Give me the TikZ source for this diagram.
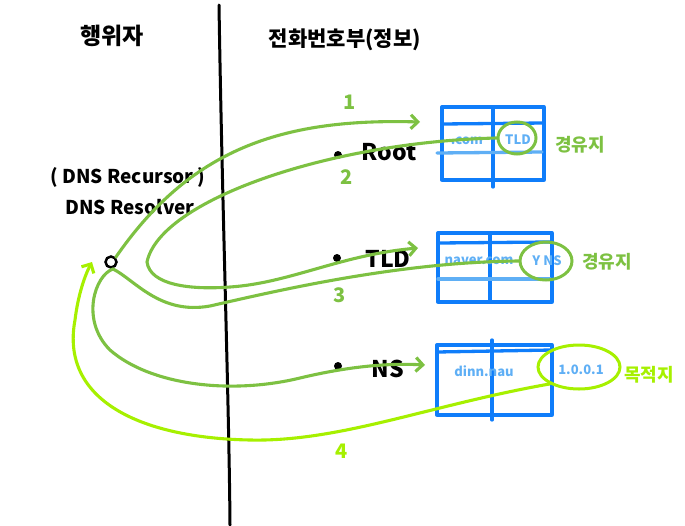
\documentclass[tikz,border=0pt]{standalone}
\usepackage{fontspec}
\setmainfont{Noto Sans CJK KR}
\usetikzlibrary{arrows.meta,shapes.geometric}
\definecolor{cgreen}{RGB}{125,193,66}
\definecolor{clime}{RGB}{166,240,0}
\definecolor{cblue}{RGB}{15,125,250}
\definecolor{clight}{RGB}{95,175,245}
\begin{document}
\begin{tikzpicture}[x=1pt,y=-1pt,
  tbl/.style={cblue,line width=3.3pt,line cap=round,line join=round},
  lightline/.style={clight,line width=3.3pt,line cap=round},
  flow/.style={cgreen,line width=3.1pt,line cap=round},
  flowb/.style={clime,line width=3.1pt,line cap=round},
  tip/.style={-{Straight Barb[length=7pt,width=14pt]}},
  celltext/.style={clight,font=\fontsize{13}{15}\selectfont\bfseries,inner sep=1pt},
  ring/.style={draw,ellipse,line width=3pt,inner sep=0pt},
  blk/.style={black,font=\fontsize{23}{27}\selectfont\bfseries,inner sep=1pt},
  num/.style={cgreen,font=\fontsize{20}{22}\selectfont\bfseries,inner sep=1pt},
  glabel/.style={cgreen,font=\fontsize{18}{20}\selectfont\bfseries,inner sep=1pt},
  dotnode/.style={fill=black,circle,minimum size=8pt,inner sep=0pt}]
\useasboundingbox (0,0) rectangle (685,525);
% headers
\node[blk] (h1) at (112,36) {행위자};
\node[blk,font=\fontsize{21}{24}\selectfont\bfseries] (h2) at (345,40) {전화번호부(정보)};
% divider
\draw[black,line width=3pt,line cap=round] (219,5) .. controls (222,200) and (229,400) .. (230,525);
% resolver
\node[blk,font=\fontsize{19}{22}\selectfont\bfseries] (rc) at (128,177) {( DNS Recursor )};
\node[blk,font=\fontsize{19}{22}\selectfont\bfseries] (rr) at (130,207) {DNS Resolver};
\node[draw=black,circle,minimum size=11pt,inner sep=0pt,line width=2.5pt,fill=white] (res) at (111,262) {};
% servers
\node[dotnode] (d1) at (338,155) {};
\node[dotnode] (d2) at (337,258) {};
\node[dotnode] (d3) at (338,366) {};
\node[blk] (root) at (389,152) {Root};
\node[blk] (tld) at (388,259) {TLD};
\node[blk] (ns) at (388,369) {NS};
% table 1
\draw[tbl] (442,107) rectangle (544,180);
\draw[tbl] (442,124) -- (544,123);
\draw[tbl] (493,107) -- (493,187);
\draw[lightline] (437,153) -- (542,152);
\node[celltext] (t1a) at (467,141) {.com};
\node[celltext] (t1b) at (518,140) {TLD};
% table 2
\draw[tbl] (438,233) rectangle (552,302);
\draw[tbl] (438,243) -- (552,242);
\draw[tbl] (490,233) -- (490,302);
\draw[lightline] (438,279) -- (550,279);
\node[celltext] (t2a) at (479,261) {naver.com};
\node[celltext] (t2b) at (547,261) {Y NS};
% table 3
\draw[tbl] (437,345) rectangle (552,415);
\draw[tbl] (437,352) -- (552,350);
\draw[tbl] (492,340) -- (492,420);
\node[celltext] (t3a) at (484,371) {dinn.nau};
\node[celltext] (t3b) at (581,370) {1.0.0.1};
% rings
\node[ring,cgreen,minimum width=38pt,minimum height=32pt] (e1) at (517,138) {};
\node[ring,cgreen,minimum width=52pt,minimum height=38pt] (e2) at (546,261) {};
\node[ring,clime,minimum width=82pt,minimum height=44pt] (e3) at (579,367) {};
\node[glabel] (w1) at (580,145) {경유지};
\node[glabel] (w2) at (607,262) {경유지};
\node[glabel,clime] (w3) at (649,375) {목적지};
% arrow ends
\coordinate (a1) at (420,122);
\coordinate (a2) at (418,248);
\coordinate (a3) at (425,365);
\coordinate (a4) at (92,262);
% flow 1
\draw[flow,tip] (res.north east) .. controls (190,150) and (280,118) .. (a1);
% flow 2
\draw[flow,tip] (e1.west) .. controls (330,142) and (160,200) .. (147,262)
  .. controls (150,285) and (190,290) .. (230,287)
  .. controls (290,283) and (340,255) .. (a2);
% flow 3
\draw[flow,tip] (e2.west) .. controls (400,262) and (280,290) .. (210,306)
  .. controls (160,315) and (135,280) .. (113,269)
  .. controls (95,275) and (80,320) .. (110,350)
  .. controls (150,385) and (230,395) .. (300,378)
  .. controls (350,366) and (390,363) .. (a3);
% flow 4
\draw[flowb,tip] (e3.210) .. controls (430,405) and (340,442) .. (250,440)
  .. controls (140,438) and (60,400) .. (75,320)
  .. controls (78,295) and (85,275) .. (a4);
% numbers
\node[num] (n1) at (350,102) {1};
\node[num] (n2) at (347,177) {2};
\node[num] (n3) at (340,295) {3};
\node[num,clime] (n4) at (342,451) {4};
\end{tikzpicture}
\end{document}
